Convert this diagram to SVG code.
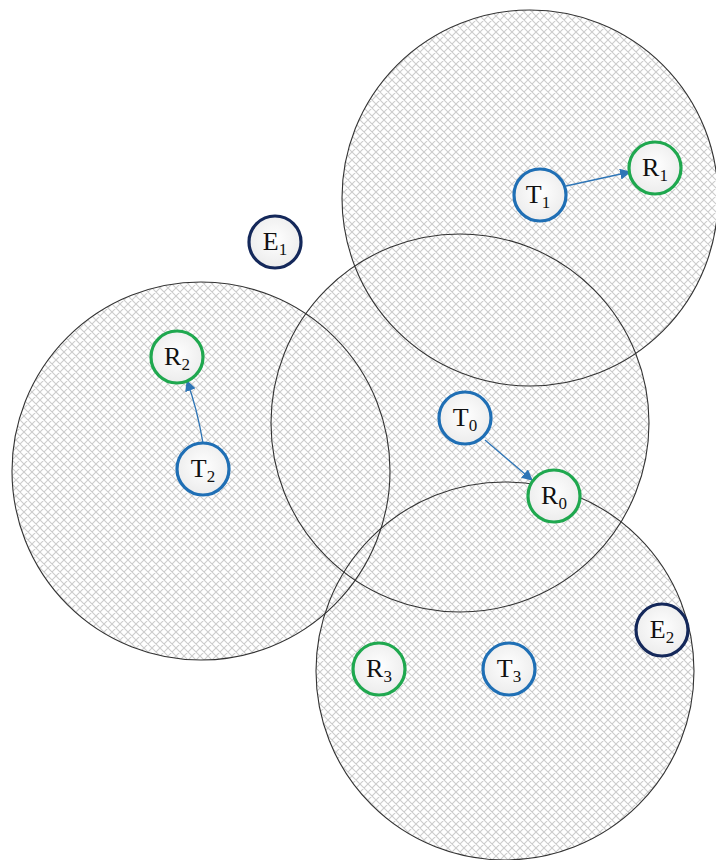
<svg xmlns="http://www.w3.org/2000/svg" width="716" height="860" viewBox="0 0 716 860">
<defs>
<pattern id="hatch" patternUnits="userSpaceOnUse" width="8" height="8">
<path d="M0,0 L8,8 M8,0 L0,8 M-1,7 L1,9 M7,-1 L9,1 M-1,1 L1,-1 M7,9 L9,7" stroke="#cccccc" stroke-width="1.1" fill="none"/>
</pattern>
<radialGradient id="nf" cx="50%" cy="45%" r="55%">
<stop offset="0%" stop-color="#ffffff"/>
<stop offset="100%" stop-color="#ececec"/>
</radialGradient>
<marker id="ah" viewBox="0 0 10 10" refX="9" refY="5" markerWidth="11" markerHeight="11" markerUnits="userSpaceOnUse" orient="auto">
<path d="M0,0 L10,5 L0,10 z" fill="#2e75b6"/>
</marker>
<style>
.area{fill:url(#hatch);stroke:none}
.edge{fill:none;stroke:#333;stroke-width:1.1}
.node circle{fill:url(#nf);stroke-width:3.2}
.t circle{stroke:#1f6fb5}
.r circle{stroke:#1fa84f}
.e circle{stroke:#14285a}
.lbl{font-family:"Liberation Serif","Times New Roman",serif;font-size:26px;fill:#111;text-anchor:middle}
.sub{font-size:17px}
.conn path{stroke:#2e75b6;stroke-width:1.3;fill:none}
</style>
</defs>
<rect width="716" height="860" fill="#ffffff"/>
<g id="areas">
<path class="area" d="M342,198 a188,188 0 1,0 376,0 a188,188 0 1,0 -376,0 Z M271,423 a189,189 0 1,0 378,0 a189,189 0 1,0 -378,0 Z M12,471 a189,189 0 1,0 378,0 a189,189 0 1,0 -378,0 Z M316,671 a189,189 0 1,0 378,0 a189,189 0 1,0 -378,0 Z" fill-rule="nonzero"/>
<circle class="edge" cx="530" cy="198" r="188"/>
<circle class="edge" cx="460" cy="423" r="189"/>
<circle class="edge" cx="201" cy="471" r="189"/>
<circle class="edge" cx="505" cy="671" r="189"/>
</g>
<g id="connectors" class="conn">
<path d="M566,186 L630,172" marker-end="url(#ah)"/>
<path d="M203,443 Q197,408 187,381" marker-end="url(#ah)"/>
<path d="M485,440 L532,480" marker-end="url(#ah)"/>
</g>
<g id="T1" class="node t"><circle cx="540" cy="195" r="26"/><text class="lbl" font-family="Liberation Serif, serif" x="538" y="203">T<tspan class="sub" dy="5">1</tspan></text></g>
<g id="R1" class="node r"><circle cx="655" cy="168" r="26"/><text class="lbl" font-family="Liberation Serif, serif" x="655" y="176">R<tspan class="sub" dy="5">1</tspan></text></g>
<g id="E1" class="node e"><circle cx="275" cy="242" r="26"/><text class="lbl" font-family="Liberation Serif, serif" x="275" y="250">E<tspan class="sub" dy="5">1</tspan></text></g>
<g id="R2" class="node r"><circle cx="177" cy="357" r="26"/><text class="lbl" font-family="Liberation Serif, serif" x="177" y="365">R<tspan class="sub" dy="5">2</tspan></text></g>
<g id="T2" class="node t"><circle cx="203" cy="469" r="26"/><text class="lbl" font-family="Liberation Serif, serif" x="203" y="477">T<tspan class="sub" dy="5">2</tspan></text></g>
<g id="T0" class="node t"><circle cx="465" cy="418" r="26"/><text class="lbl" font-family="Liberation Serif, serif" x="465" y="426">T<tspan class="sub" dy="5">0</tspan></text></g>
<g id="R0" class="node r"><circle cx="554" cy="496" r="26"/><text class="lbl" font-family="Liberation Serif, serif" x="554" y="504">R<tspan class="sub" dy="5">0</tspan></text></g>
<g id="R3" class="node r"><circle cx="379" cy="669" r="26"/><text class="lbl" font-family="Liberation Serif, serif" x="379" y="677">R<tspan class="sub" dy="5">3</tspan></text></g>
<g id="T3" class="node t"><circle cx="509" cy="669" r="26"/><text class="lbl" font-family="Liberation Serif, serif" x="509" y="677">T<tspan class="sub" dy="5">3</tspan></text></g>
<g id="E2" class="node e"><circle cx="662" cy="630" r="26"/><text class="lbl" font-family="Liberation Serif, serif" x="662" y="638">E<tspan class="sub" dy="5">2</tspan></text></g>
</svg>
